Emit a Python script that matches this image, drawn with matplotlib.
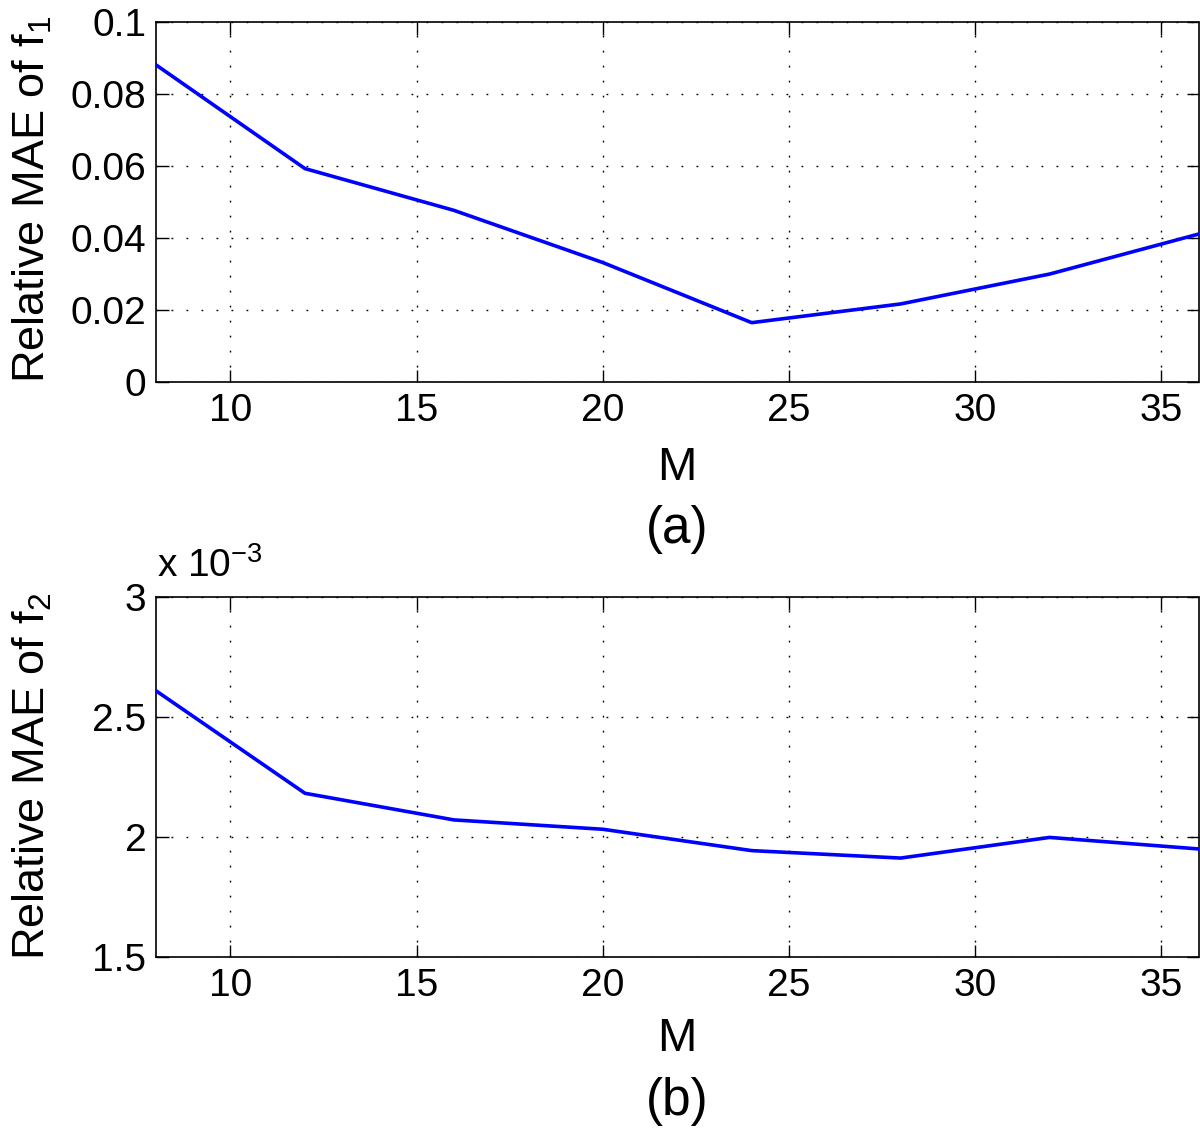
import matplotlib
matplotlib.use("Agg")
import matplotlib.pyplot as plt
from matplotlib.ticker import FixedLocator

# ---- data ----
M = [8, 12, 16, 20, 24, 28, 32, 36]
mae_f1 = [0.0880, 0.0592, 0.0476, 0.0331, 0.0164, 0.0216, 0.0299, 0.0410]
mae_f2 = [2.608e-3, 2.181e-3, 2.070e-3, 2.031e-3, 1.942e-3, 1.911e-3, 1.997e-3, 1.949e-3]
x_ticks = [10, 15, 20, 25, 30, 35]
y1_ticks = [0, 0.02, 0.04, 0.06, 0.08, 0.1]
y1_labels = ["0", "0.02", "0.04", "0.06", "0.08", "0.1"]
y2_ticks = [1.5e-3, 2.0e-3, 2.5e-3, 3.0e-3]
y2_labels = ["1.5", "2", "2.5", "3"]
xlabel = "M"
ylabel1 = "Relative MAE of f$_1$"
ylabel2 = "Relative MAE of f$_2$"
captions = ["(a)", "(b)"]

plt.rcParams["font.family"] = ["Liberation Sans", "DejaVu Sans"]
plt.rcParams["mathtext.fontset"] = "custom"
plt.rcParams["mathtext.rm"] = "Liberation Sans"
plt.rcParams["mathtext.it"] = "Liberation Sans"
plt.rcParams["mathtext.bf"] = "Liberation Sans"

W, H = 1200, 1135
fig = plt.figure(figsize=(W / 100, H / 100), dpi=100)

def px_axes(left, top, right, bottom):
    return fig.add_axes([left / W, 1 - bottom / H, (right - left) / W, (bottom - top) / H])

ax1 = px_axes(156, 21.7, 1198.5, 381.7)
ax2 = px_axes(156, 596.7, 1198.5, 956.7)

tick_fs = 28
label_fs = 32.5
m_fs = 34
cap_fs = 37

def style(ax, yticks, ylabels):
    ax.set_xlim(8, 36)
    ax.xaxis.set_major_locator(FixedLocator(x_ticks))
    ax.set_xticklabels([str(t) for t in x_ticks])
    ax.yaxis.set_major_locator(FixedLocator(yticks))
    ax.set_yticklabels(ylabels)
    ax.tick_params(direction="in", length=9, width=1, top=True, right=True,
                   labelsize=tick_fs, colors="black")
    ax.tick_params(axis="x", pad=8)
    ax.tick_params(axis="y", pad=7)
    for s in ax.spines.values():
        s.set_linewidth(1.2)
        s.set_color("black")
    ax.grid(True, color="black", linestyle=(0, (1.3, 9.5)), linewidth=1.0)
    ax.set_axisbelow(False)

ax1.plot(M, mae_f1, color=(0, 0, 1), linewidth=2.6, zorder=3)
ax1.set_ylim(0, 0.1)
style(ax1, y1_ticks, y1_labels)

ax2.plot(M, mae_f2, color=(0, 0, 1), linewidth=2.6, zorder=3)
ax2.set_ylim(1.5e-3, 3e-3)
style(ax2, y2_ticks, y2_labels)

# axis labels and captions
fig.text(32 / W, 1 - 199 / H, ylabel1, rotation=90, ha="center", va="center", fontsize=label_fs)
fig.text(32 / W, 1 - 776 / H, ylabel2, rotation=90, ha="center", va="center", fontsize=label_fs)
fig.text(677 / W, 1 - 468 / H, xlabel, ha="center", va="center", fontsize=m_fs)
fig.text(677 / W, 1 - 1039 / H, xlabel, ha="center", va="center", fontsize=m_fs)
fig.text(677 / W, 1 - 529 / H, captions[0], ha="center", va="center", fontsize=cap_fs)
fig.text(677 / W, 1 - 1101 / H, captions[1], ha="center", va="center", fontsize=cap_fs)
fig.text(157 / W, 1 - 566 / H, "x 10$^{-3}$", ha="left", va="center", fontsize=tick_fs)

fig.savefig("out.png", dpi=100, facecolor="white")
